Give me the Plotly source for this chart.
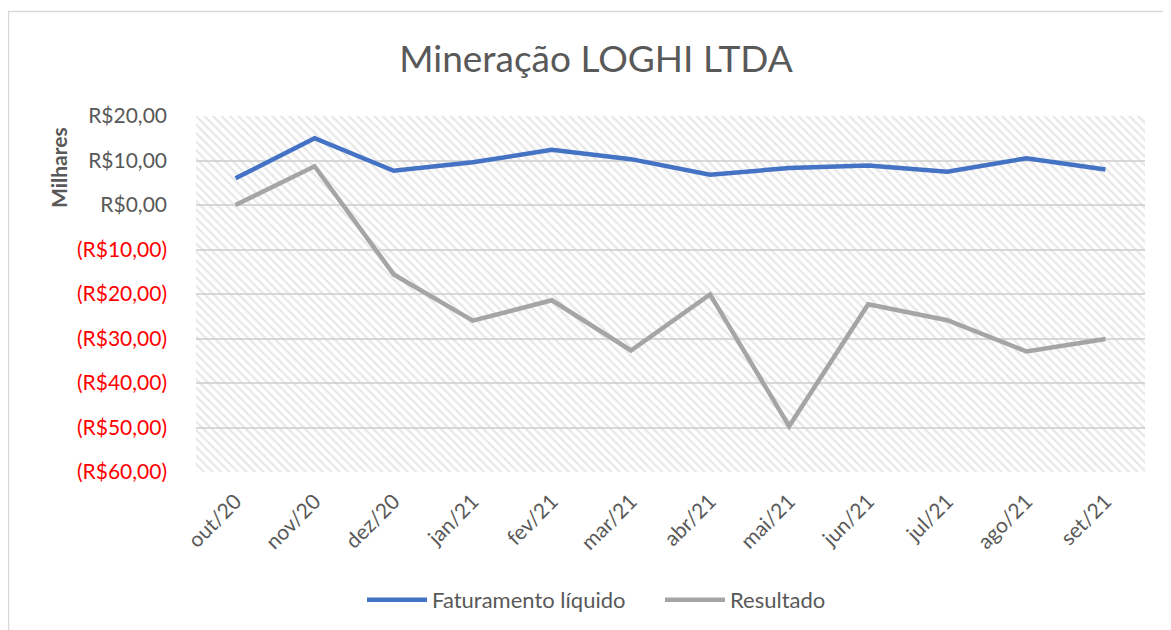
import plotly.graph_objects as go

months = ["out/20", "nov/20", "dez/20", "jan/21", "fev/21", "mar/21",
          "abr/21", "mai/21", "jun/21", "jul/21", "ago/21", "set/21"]
faturamento = [6.0, 15.0, 7.7, 9.6, 12.4, 10.3, 6.8, 8.3, 8.9, 7.5, 10.5, 8.0]
resultado = [0.0, 8.7, -15.6, -26.0, -21.4, -32.7, -20.1, -49.7, -22.3, -25.9, -32.9, -30.1]
y_ticks = [20, 10, 0, -10, -20, -30, -40, -50, -60]
y_tick_labels = ["R$20,00", "R$10,00", "R$0,00", "(R$10,00)", "(R$20,00)",
                 "(R$30,00)", "(R$40,00)", "(R$50,00)", "(R$60,00)"]

# page body has an 8px margin; figure sized to fit the window
W, H = 1163, 622
L, R, T, B = 188, 26, 108, 158
PW, PH = W - L - R, H - T - B
FONT = "Lato"
GRAY = "#595959"

xi = list(range(len(months)))
x_lo, x_hi = -0.5, len(months) - 0.5
y_lo, y_hi = min(y_ticks), max(y_ticks)

tick_text = []
for v, t in zip(y_ticks, y_tick_labels):
    col = "#FF0000" if v < 0 else GRAY
    tick_text.append(f"<span style='color:{col}'>{t}</span>")

fig = go.Figure()

# hatched plot-area background
fig.add_trace(go.Scatter(
    x=[x_lo, x_hi, x_hi, x_lo, x_lo], y=[y_lo, y_lo, y_hi, y_hi, y_lo],
    mode="lines", line=dict(width=0), fill="toself",
    fillcolor="rgba(0,0,0,0)",
    fillpattern=dict(shape="\\", size=6, solidity=0.38, fgcolor="#d0d0d0",
                     bgcolor="rgba(0,0,0,0)"),
    hoverinfo="skip", showlegend=False))

fig.add_trace(go.Scatter(x=xi, y=faturamento, mode="lines", name="Faturamento líquido",
                         line=dict(color="#4472C4", width=4.5)))
fig.add_trace(go.Scatter(x=xi, y=resultado, mode="lines", name="Resultado",
                         line=dict(color="#A5A5A5", width=4.5)))

fig.update_layout(
    width=W, height=H,
    margin=dict(l=L, r=R, t=T, b=B),
    paper_bgcolor="white", plot_bgcolor="white",
    font=dict(family=FONT, color=GRAY),
    title=dict(text="Mineração LOGHI LTDA", xref="container", yref="container",
               x=588 / W, y=1 - 51 / H, xanchor="center", yanchor="middle",
               font=dict(family=FONT, size=37, color=GRAY)),
    xaxis=dict(range=[x_lo, x_hi], tickvals=xi, ticktext=months, tickangle=-45,
               showgrid=False, zeroline=False, showline=False,
               ticks="", ticklabelstandoff=12,
               tickfont=dict(family=FONT, size=21, color=GRAY)),
    yaxis=dict(range=[y_lo, y_hi], tickvals=y_ticks, ticktext=tick_text,
               showgrid=True, gridcolor="#d9d9d9", gridwidth=1.5,
               zeroline=False, showline=False, ticks="", ticklabelstandoff=28,
               tickfont=dict(family=FONT, size=21, color=GRAY)),
    legend=dict(orientation="h", xref="container", yref="container",
                x=652 / W, y=1 - 592 / H, xanchor="center", yanchor="middle",
                font=dict(family=FONT, size=22, color=GRAY),
                itemwidth=60, entrywidth=223, entrywidthmode="pixels",
                tracegroupgap=0),
    annotations=[dict(text="<b>Milhares</b>", textangle=-90, showarrow=False,
                      xref="paper", yref="paper",
                      x=(50 - L) / PW, y=(H - B - 160) / PH,
                      xanchor="center", yanchor="middle",
                      font=dict(family=FONT, size=21, color=GRAY))],
    shapes=[dict(type="rect", xref="paper", yref="paper",
                 x0=(0.5 - L) / PW, x1=(W + 20 - L) / PW,
                 y0=(-20 - B) / PH, y1=(H - B - 3.5) / PH,
                 line=dict(color="#d9d9d9", width=1.5), layer="below")],
)

fig.write_html("out.html")
